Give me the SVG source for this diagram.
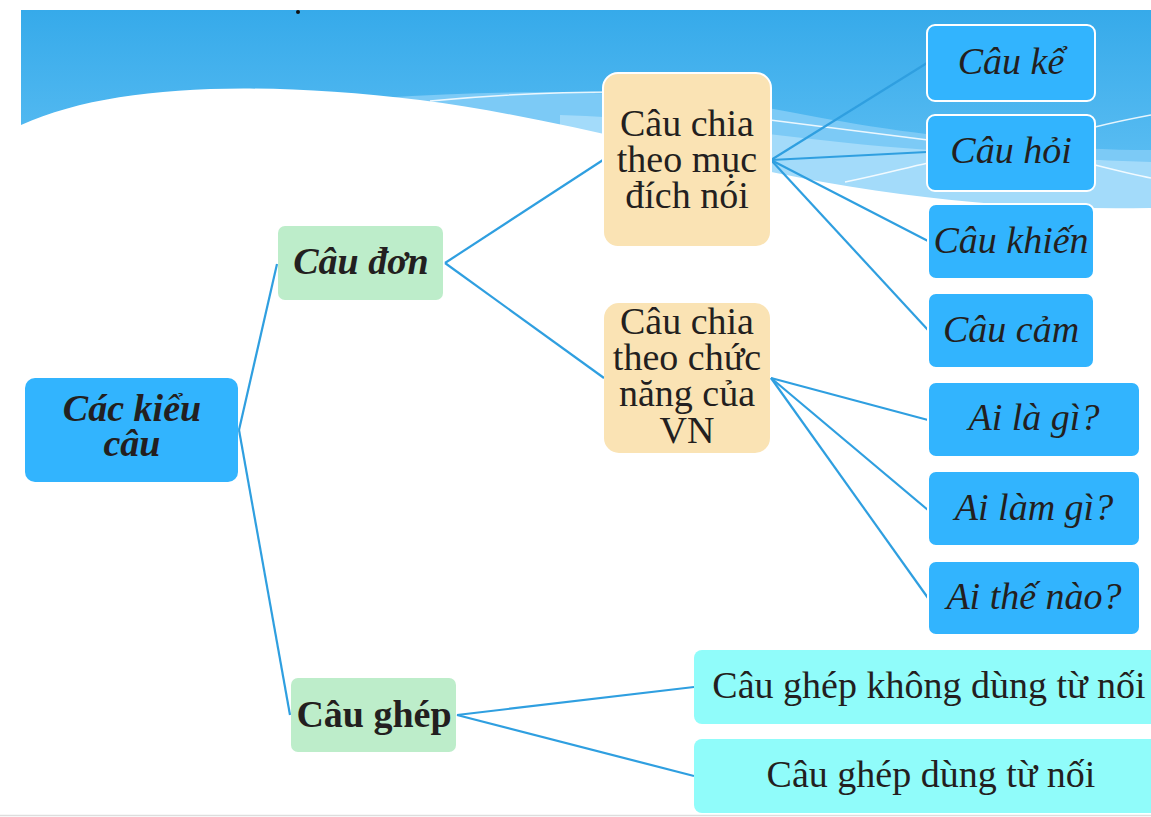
<svg xmlns="http://www.w3.org/2000/svg" width="1151" height="817" viewBox="0 0 1151 817">
<defs>
<linearGradient id="sky" x1="0" y1="0" x2="0" y2="1">
<stop offset="0" stop-color="#36aaea"/>
<stop offset="1" stop-color="#66c3f5"/>
</linearGradient>
<style>
.t{font-family:"Liberation Serif","Times New Roman",serif;fill:#231f20;text-anchor:middle;font-size:38px}
.i{font-style:italic}
.b{font-weight:bold}
.blue{fill:#32b4fe;stroke:#ffffff;stroke-width:2}
.blue2{fill:#32b4fe}
.green{fill:#bdedca}
.beige{fill:#fae3b4;stroke:#ffffff;stroke-width:2}
.cyan{fill:#90fcfa}
.conn{stroke:#2f9fe0;stroke-width:2.2;fill:none}
.wl{stroke:#ffffff;stroke-width:1.5;fill:none;opacity:0.85}
</style>
</defs>
<rect x="0" y="0" width="1151" height="817" fill="#ffffff"/>
<g id="background">
<rect x="21" y="10" width="1130" height="205" fill="url(#sky)"/>
<path d="M380,98 C520,88 680,90 790,112 C900,134 1040,150 1151,150 L1151,212 L380,212 Z" fill="#7ccaf6"/>
<path d="M560,115 C680,118 780,140 930,150 C1030,158 1100,160 1151,162 L1151,212 L560,212 Z" fill="#a3dbfa"/>
<path d="M21,125 C110,85 250,80 420,100 C560,118 700,160 823,182 C950,204 1050,210 1151,208 L1151,230 L21,230 Z" fill="#ffffff"/>
<path class="wl" d="M430,101 C500,94 560,92 620,92"/>
<path class="wl" d="M770,120 C830,128 880,134 928,140"/>
<path class="wl" d="M845,182 C880,175 905,168 928,163"/>
<path class="wl" d="M1095,127 C1115,122 1135,118 1151,115"/>
<path class="wl" d="M1095,165 C1115,170 1135,175 1151,178"/>
<circle cx="298" cy="12" r="2" fill="#111111"/>
<line x1="0" y1="815.5" x2="1151" y2="815.5" stroke="#dddddd" stroke-width="1.5"/>
</g>
<g id="connectors">
<path class="conn" d="M239,430 L277,264"/>
<path class="conn" d="M239,430 L290,715"/>
<path class="conn" d="M445,263 L603,160"/>
<path class="conn" d="M445,263 L604,378"/>
<path class="conn" d="M771,160 L927,63"/>
<path class="conn" d="M771,160 L927,152"/>
<path class="conn" d="M771,160 L928,241"/>
<path class="conn" d="M771,160 L928,330"/>
<path class="conn" d="M771,378 L928,420"/>
<path class="conn" d="M771,378 L928,510"/>
<path class="conn" d="M771,378 L928,598"/>
<path class="conn" d="M457,715 L694,687"/>
<path class="conn" d="M457,715 L694,776"/>
</g>
<g id="n-cac-kieu-cau">
<rect x="25" y="378" width="213" height="104" rx="10" class="blue2"/>
<text class="t i b" x="132" y="421">Các kiểu</text>
<text class="t i b" x="132" y="456">câu</text>
</g>
<g id="n-cau-don">
<rect x="278" y="226" width="165" height="74" rx="7" class="green"/>
<text class="t i b" x="361" y="274">Câu đơn</text>
</g>
<g id="n-cau-ghep">
<rect x="291" y="678" width="165" height="74" rx="7" class="green"/>
<text class="t b" x="374" y="727">Câu ghép</text>
</g>
<g id="n-muc-dich">
<rect x="603" y="73" width="168" height="174" rx="15" class="beige"/>
<text class="t" x="687" y="136">Câu chia</text>
<text class="t" x="687" y="172">theo mục</text>
<text class="t" x="687" y="208">đích nói</text>
</g>
<g id="n-chuc-nang">
<rect x="604" y="303" width="166" height="150" rx="15" class="beige" style="stroke:none"/>
<text class="t" x="687" y="334">Câu chia</text>
<text class="t" x="687" y="370">theo chức</text>
<text class="t" x="687" y="406">năng của</text>
<text class="t" x="687" y="443">VN</text>
</g>
<g id="n-cau-ke">
<rect x="927" y="25" width="168" height="76" rx="8" class="blue"/>
<text class="t i" x="1011" y="74">Câu kể</text>
</g>
<g id="n-cau-hoi">
<rect x="927" y="115" width="168" height="76" rx="8" class="blue"/>
<text class="t i" x="1011" y="163">Câu hỏi</text>
</g>
<g id="n-cau-khien">
<rect x="928" y="204" width="166" height="75" rx="8" class="blue"/>
<text class="t i" x="1011" y="253">Câu khiến</text>
</g>
<g id="n-cau-cam">
<rect x="928" y="293" width="166" height="75" rx="8" class="blue"/>
<text class="t i" x="1011" y="342">Câu cảm</text>
</g>
<g id="n-ai-la-gi">
<rect x="928" y="382" width="212" height="75" rx="8" class="blue"/>
<text class="t i" x="1034" y="430">Ai là gì?</text>
</g>
<g id="n-ai-lam-gi">
<rect x="928" y="471" width="212" height="75" rx="8" class="blue"/>
<text class="t i" x="1034" y="520">Ai làm gì?</text>
</g>
<g id="n-ai-the-nao">
<rect x="928" y="561" width="212" height="74" rx="8" class="blue"/>
<text class="t i" x="1034" y="609">Ai thế nào?</text>
</g>
<g id="n-ghep-khong">
<rect x="694" y="650" width="472" height="74" rx="8" class="cyan"/>
<text class="t" x="929" y="698">Câu ghép không dùng từ nối</text>
</g>
<g id="n-ghep-dung">
<rect x="694" y="739" width="472" height="74" rx="8" class="cyan"/>
<text class="t" x="931" y="787">Câu ghép dùng từ nối</text>
</g>
</svg>
